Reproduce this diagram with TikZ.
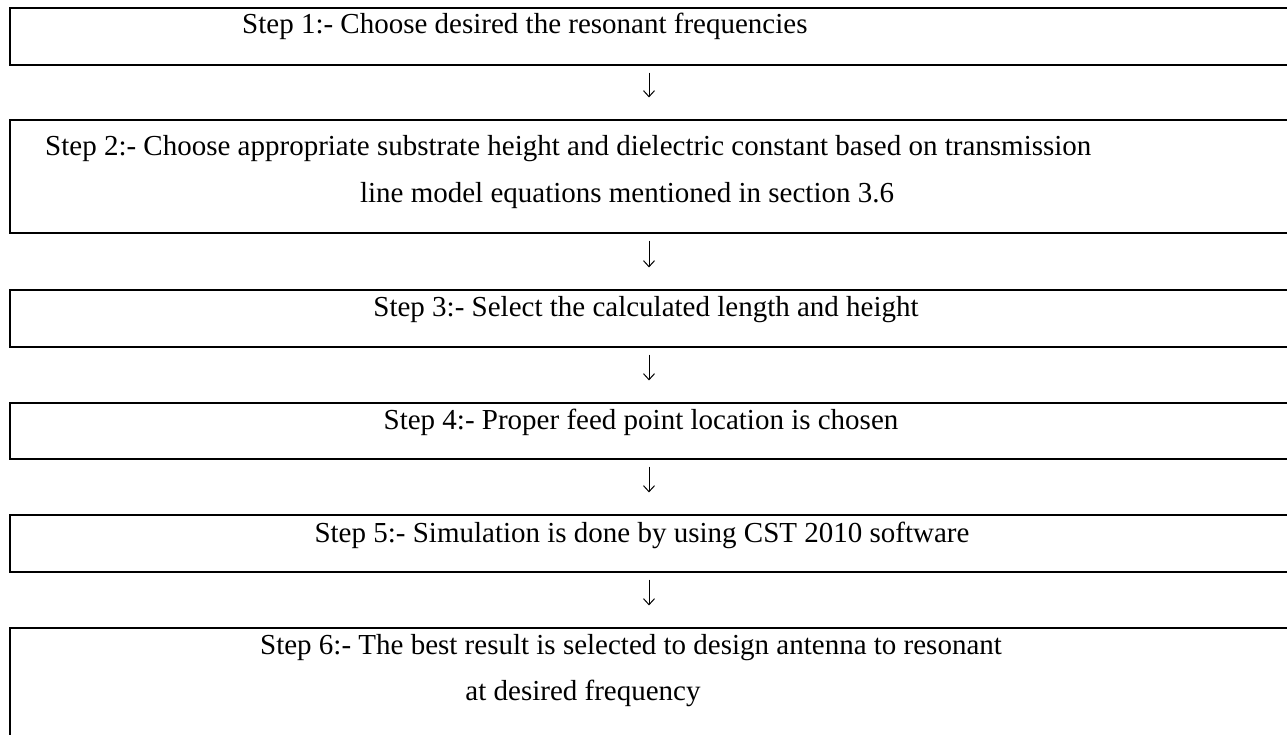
\documentclass[tikz,border=0pt]{standalone}
\usepackage{fontspec}
\setmainfont{Liberation Serif}
\usetikzlibrary{arrows.meta}

\tikzset{
	stepbox/.style={draw, line width=1.2pt, inner sep=0pt, minimum width=1290pt},
	steptext/.style={anchor=base, inner sep=0pt, font=\fontsize{29}{34}\selectfont},
	flow/.style={-{Straight Barb[length=6pt,width=11pt]}, line width=1pt, shorten <=7pt, shorten >=22pt}
}

\begin{document}
\begin{tikzpicture}[x=1pt, y=-1pt]
	\useasboundingbox (0,0) rectangle (1287,735);
	\foreach \n/\y/\h in {1/36.5/57, 2/176.5/113, 3/318.5/57, 4/431/56, 5/543.5/57, 6/694/132} {
		\node[stepbox, minimum height=\h pt] (b\n) at (655,\y) {};
	}
	\node[steptext, anchor=base west] (t1) at (242,34) {Step 1:- Choose desired the resonant frequencies};
	\node[steptext, anchor=base west] (t2a) at (45,156) {Step 2:- Choose appropriate substrate height and dielectric constant based on transmission};
	\node[steptext] (t2b) at (627,203) {line model equations mentioned in section 3.6};
	\node[steptext] (t3) at (646,316) {Step 3:- Select the calculated length and height};
	\node[steptext] (t4) at (641,429) {Step 4:- Proper feed point location is chosen};
	\node[steptext] (t5) at (642,542) {Step 5:- Simulation is done by using CST 2010 software};
	\node[steptext] (t6a) at (631,654) {Step 6:- The best result is selected to design antenna to resonant};
	\node[steptext] (t6b) at (583,700) {at desired frequency};
	\coordinate (ax) at (649,0);
	\foreach \a/\b in {1/2, 2/3, 3/4, 4/5, 5/6} {
		\draw[flow] (b\a.south -| ax) -- (b\b.north -| ax);
	}
\end{tikzpicture}
\end{document}
